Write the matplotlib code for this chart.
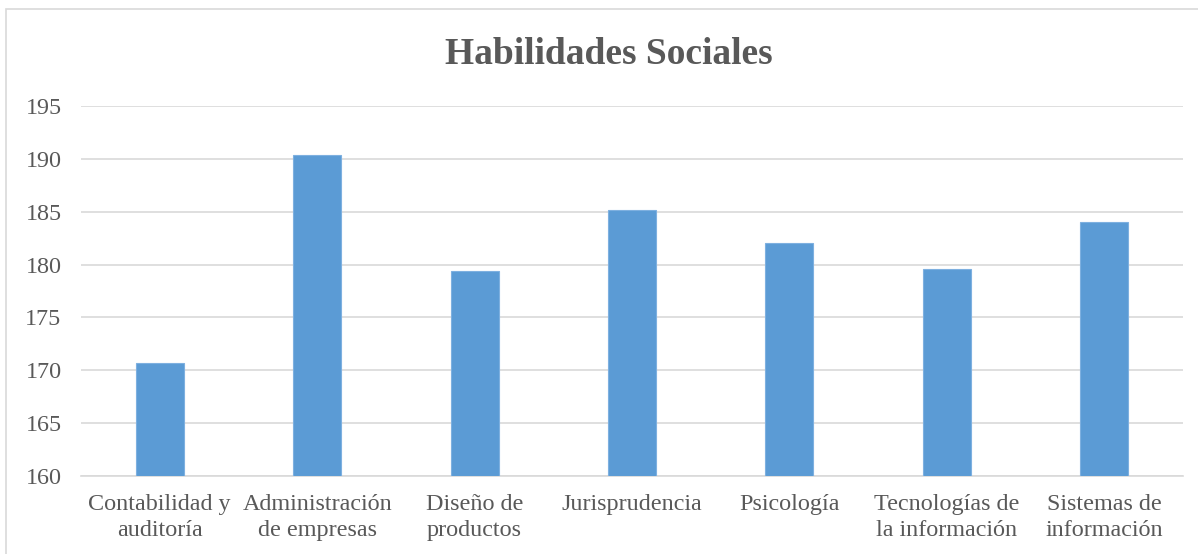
import matplotlib.pyplot as plt
from matplotlib.patches import Rectangle

carreras = ['Contabilidad y\nauditoría', 'Administración\nde empresas', 'Diseño de\nproductos',
            'Jurisprudencia', 'Psicología', 'Tecnologías de\nla información', 'Sistemas de\ninformación']
puntajes = [170.7, 190.4, 179.4, 185.2, 182.0, 179.6, 184.0]
yticks = [160, 165, 170, 175, 180, 185, 190, 195]

plt.rcParams['font.family'] = ['Liberation Serif', 'DejaVu Serif']
gris = '#595959'

fig = plt.figure(figsize=(11.98, 5.54), dpi=100)
ax = fig.add_axes([81 / 1198, 1 - 476 / 554, (1183 - 81) / 1198, (476 - 106) / 554])

x = range(len(carreras))
ax.bar(x, [p - 160 for p in puntajes], bottom=160, width=0.305, color='#5b9bd5',
       edgecolor='#7eb0e0', linewidth=0.8, zorder=3)

ax.set_ylim(160, 195)
ax.set_xlim(-0.5, len(carreras) - 0.5)
ax.set_yticks(yticks)
ax.set_yticklabels([str(t) for t in yticks], fontsize=17.4, color=gris)
ax.set_xticks(list(x))
ax.set_xticklabels(carreras, fontsize=17.4, color=gris, linespacing=1.3)
ax.tick_params(axis='both', length=0)
ax.tick_params(axis='y', pad=14)
ax.tick_params(axis='x', pad=13)
ax.grid(axis='y', color='#d9d9d9', linewidth=1.2, zorder=0)
for s in ['top', 'right', 'left']:
    ax.spines[s].set_visible(False)
ax.spines['bottom'].set_color('#d9d9d9')
ax.spines['bottom'].set_linewidth(1.2)

fig.text(0.5 + 10 / 1198, 1 - 54 / 554, 'Habilidades Sociales', ha='center', va='center',
         fontsize=27, fontweight='bold', color=gris)

# marco del gráfico
fig.patches.append(Rectangle((6 / 1198, -0.05), 1.1, 1 - 9 / 554 + 0.05,
                             transform=fig.transFigure, fill=False,
                             edgecolor='#d9d9d9', linewidth=1.2))

fig.savefig('out.png', dpi=100)
